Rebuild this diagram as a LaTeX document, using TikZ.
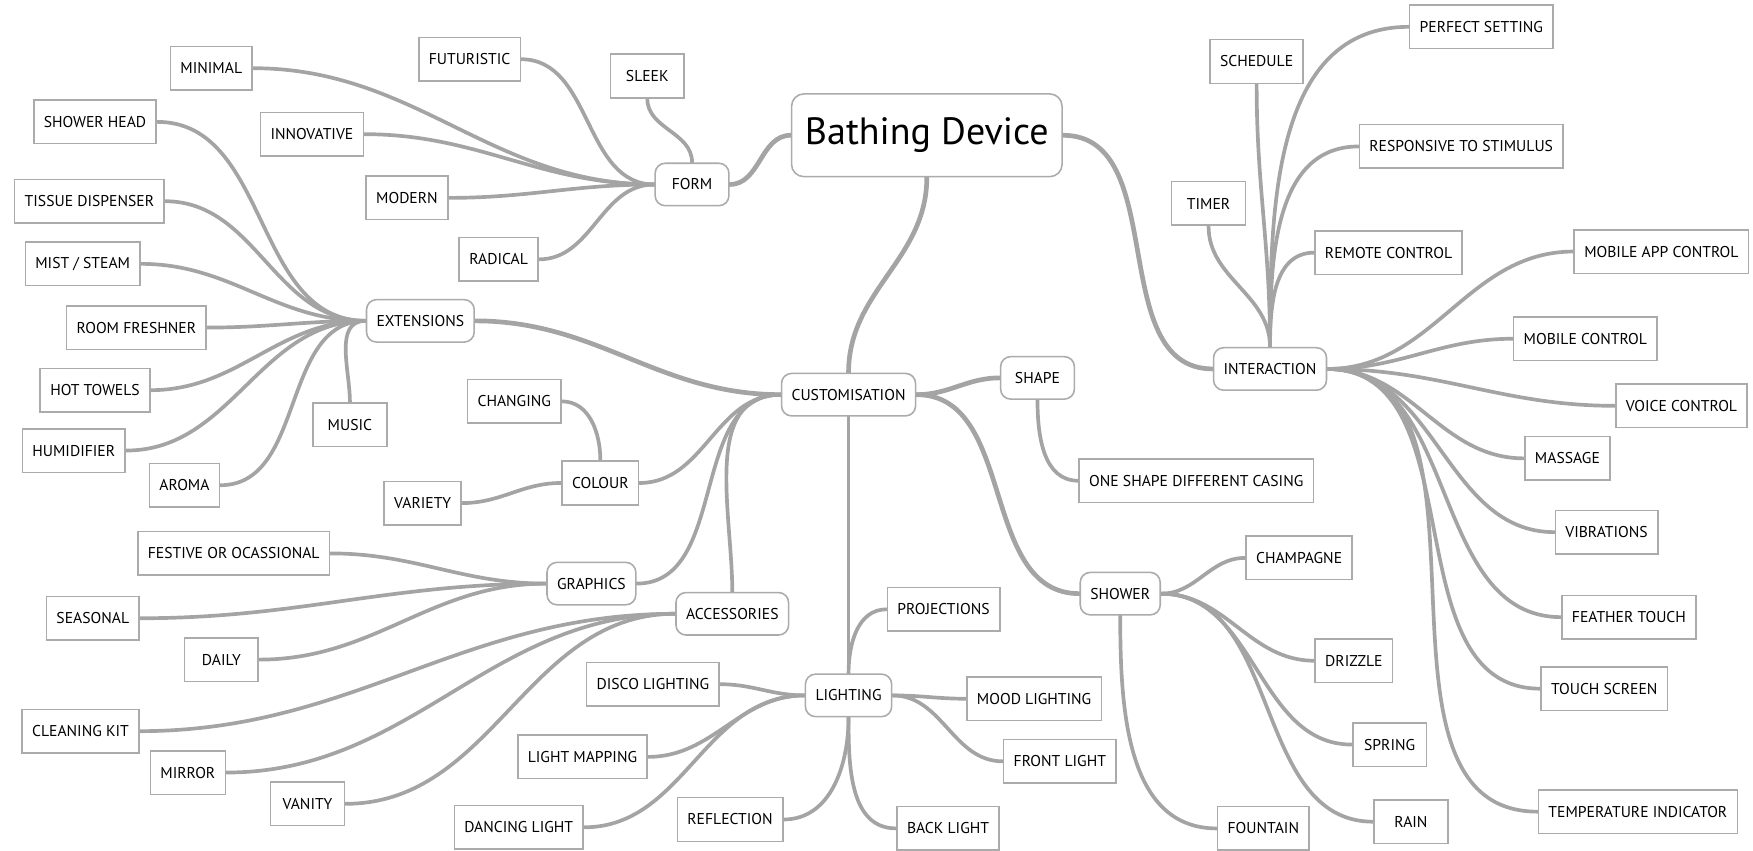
\documentclass[tikz,border=0pt]{standalone}
\usepackage{fontspec}
\setmainfont{PT Sans}
\usepackage{xcolor}
\usepackage{tikz}
\usetikzlibrary{positioning, backgrounds}

\definecolor{linkgrey}{HTML}{A4A4A4}
\definecolor{boxgrey}{HTML}{ABABAB}

\begin{document}
\begin{tikzpicture}[x=1pt, y=-1pt,
    leaf/.style={draw=boxgrey, line width=1.4pt, fill=white, font=\fontsize{14}{16}\selectfont, inner xsep=9pt, minimum height=39pt, minimum width=66pt},
    topic/.style={leaf, rounded corners=9pt, minimum height=38pt},
    link/.style={draw=linkgrey, line width=3.3pt, line cap=round},
    branch/.style={link, line width=4.2pt}]
    \useasboundingbox (0,0) rectangle (1568,761);

    % Root and topics
    \node[topic, rounded corners=11pt, font=\fontsize{34}{40}\selectfont, minimum height=74pt, inner xsep=12pt] (root) at (829,121) {Bathing Device};
    \node[topic] (form) at (619,165) {FORM};
    \node[topic] (extensions) at (376,287) {EXTENSIONS};
    \node[topic] (customisation) at (759,353) {CUSTOMISATION};
    \node[topic] (shape) at (928,338) {SHAPE};
    \node[topic] (interaction) at (1136,330) {INTERACTION};
    \node[leaf] (colour) at (537,432) {COLOUR};
    \node[topic] (graphics) at (529,522) {GRAPHICS};
    \node[topic] (accessories) at (655,549) {ACCESSORIES};
    \node[topic] (lighting) at (759,622) {LIGHTING};
    \node[topic] (shower) at (1002,531) {SHOWER};

    % Form
    \node[leaf] (minimal) at (189,61) {MINIMAL};
    \node[leaf] (futuristic) at (420,53) {FUTURISTIC};
    \node[leaf] (sleek) at (579,68) {SLEEK};
    \node[leaf] (innovative) at (279,120) {INNOVATIVE};
    \node[leaf] (modern) at (364,177) {MODERN};
    \node[leaf] (radical) at (446,232) {RADICAL};

    % Extensions
    \node[leaf] (showerhead) at (85,109) {SHOWER HEAD};
    \node[leaf] (tissue) at (80,180) {TISSUE DISPENSER};
    \node[leaf] (mist) at (74,236) {MIST / STEAM};
    \node[leaf] (freshner) at (122,293) {ROOM FRESHNER};
    \node[leaf] (towels) at (85,349) {HOT TOWELS};
    \node[leaf] (humidifier) at (66,403) {HUMIDIFIER};
    \node[leaf, minimum width=59pt] (aroma) at (165,434) {AROMA};
    \node[leaf] (music) at (313,380) {MUSIC};

    % Colour, graphics, accessories
    \node[leaf] (changing) at (460,359) {CHANGING};
    \node[leaf] (variety) at (378,450) {VARIETY};
    \node[leaf] (festive) at (209,495) {FESTIVE OR OCASSIONAL};
    \node[leaf] (seasonal) at (83,553) {SEASONAL};
    \node[leaf] (daily) at (198,590) {DAILY};
    \node[leaf] (cleaning) at (72,654) {CLEANING KIT};
    \node[leaf] (mirror) at (168,691) {MIRROR};
    \node[leaf] (vanity) at (275,719) {VANITY};

    % Lighting
    \node[leaf] (projections) at (844,545) {PROJECTIONS};
    \node[leaf] (disco) at (584,612) {DISCO LIGHTING};
    \node[leaf] (mapping) at (521,677) {LIGHT MAPPING};
    \node[leaf] (dancing) at (464,740) {DANCING LIGHT};
    \node[leaf] (reflection) at (653,733) {REFLECTION};
    \node[leaf] (backlight) at (848,741) {BACK LIGHT};
    \node[leaf] (mood) at (925,625) {MOOD LIGHTING};
    \node[leaf] (frontlight) at (948,681) {FRONT LIGHT};

    % Shape and shower
    \node[leaf] (oneshape) at (1070,430) {ONE SHAPE DIFFERENT CASING};
    \node[leaf] (champagne) at (1162,499) {CHAMPAGNE};
    \node[leaf] (drizzle) at (1211,591) {DRIZZLE};
    \node[leaf] (spring) at (1243,666) {SPRING};
    \node[leaf] (rain) at (1262,735) {RAIN};
    \node[leaf] (fountain) at (1130,741) {FOUNTAIN};

    % Interaction
    \node[leaf] (schedule) at (1124,55) {SCHEDULE};
    \node[leaf] (perfect) at (1325,24) {PERFECT SETTING};
    \node[leaf] (responsive) at (1307,131) {RESPONSIVE TO STIMULUS};
    \node[leaf] (timer) at (1081,182) {TIMER};
    \node[leaf] (remote) at (1242,226) {REMOTE CONTROL};
    \node[leaf] (mobileapp) at (1486,225) {MOBILE APP CONTROL};
    \node[leaf] (mobile) at (1418,303) {MOBILE CONTROL};
    \node[leaf] (voice) at (1504,363) {VOICE CONTROL};
    \node[leaf] (massage) at (1402,410) {MASSAGE};
    \node[leaf] (vibrations) at (1437,476) {VIBRATIONS};
    \node[leaf] (feather) at (1457,552) {FEATHER TOUCH};
    \node[leaf] (touch) at (1435,616) {TOUCH SCREEN};
    \node[leaf] (temperature) at (1465,726) {TEMPERATURE INDICATOR};

    % Connectors (behind the boxes)
    \begin{pgfonlayer}{background}
        \draw[branch] (root.west) to[out=180,in=0] (form.east);
        \draw[branch] (root.south) to[out=-90,in=90] (customisation.north);
        \draw[branch] (root.east) to[out=0,in=180] (interaction.west);

        \foreach \n in {minimal,futuristic,innovative,modern,radical}
            \draw[link] (\n.east) to[out=0,in=180] (form.west);
        \draw[link] (sleek.south) to[out=-90,in=90] (form.north);

        \foreach \n in {showerhead,tissue,mist,freshner,towels,humidifier,aroma}
            \draw[link] (\n.east) to[out=0,in=180] (extensions.west);
        \draw[link] (music.north) to[out=90,in=180] (extensions.west);

        \draw[branch] (extensions.east) to[out=0,in=180] (customisation.west);
        \draw[branch] (customisation.east) to[out=0,in=180] (shape.west);
        \draw[branch] (customisation.east) to[out=0,in=180] (shower.west);
        \foreach \n in {colour,graphics}
            \draw[link] (\n.east) to[out=0,in=180] (customisation.west);
        \draw[link] (accessories.north) to[out=90,in=180] (customisation.west);
        \draw[link] (customisation.south) -- (lighting.north);

        \draw[link] (changing.east) to[out=0,in=90] (colour.north);
        \draw[link] (variety.east) to[out=0,in=180] (colour.west);

        \foreach \n in {festive,seasonal,daily}
            \draw[link] (\n.east) to[out=0,in=180] (graphics.west);
        \foreach \n in {cleaning,mirror,vanity}
            \draw[link] (\n.east) to[out=0,in=180] (accessories.west);

        \foreach \n in {disco,mapping,dancing}
            \draw[link] (\n.east) to[out=0,in=180] (lighting.west);
        \foreach \n in {mood,frontlight}
            \draw[link] (lighting.east) to[out=0,in=180] (\n.west);
        \draw[link] (lighting.north) to[out=90,in=180] (projections.west);
        \draw[link] (reflection.east) to[out=0,in=-90] (lighting.south);
        \draw[link] (lighting.south) to[out=-90,in=180] (backlight.west);

        \draw[link] (shape.south) to[out=-90,in=180] (oneshape.west);
        \foreach \n in {champagne,drizzle,spring,rain}
            \draw[link] (shower.east) to[out=0,in=180] (\n.west);
        \draw[link] (shower.south) to[out=-90,in=180] (fountain.west);

        \foreach \n in {schedule,timer}
            \draw[link] (\n.south) to[out=-90,in=90] (interaction.north);
        \foreach \n in {perfect,responsive,remote}
            \draw[link] (\n.west) to[out=180,in=90] (interaction.north);
        \foreach \n in {mobileapp,mobile,voice,massage,vibrations,feather,touch,temperature}
            \draw[link] (interaction.east) to[out=0,in=180] (\n.west);
    \end{pgfonlayer}
\end{tikzpicture}
\end{document}
